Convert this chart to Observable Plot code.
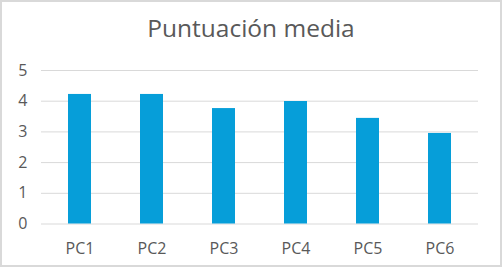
<!DOCTYPE html>
<html><head><meta charset="utf-8">
<script src="https://cdn.jsdelivr.net/npm/d3@7"></script>
<script src="https://cdn.jsdelivr.net/npm/@observablehq/plot@0.6"></script>
<style>
body{margin:0;background:#fff}
#chart{position:relative;width:502px;height:267px;box-sizing:border-box;border:2px solid #d9d9d9;background:#fff;font-family:"Open Sans",sans-serif;overflow:hidden}
#title{height:48px;padding-top:4px;box-sizing:border-box;line-height:44px;text-align:center;font-size:24.5px;color:#595959;}
#plot svg{display:block}
</style></head>
<body>
<div id="chart"><div id="title">Puntuación media</div><div id="plot"></div></div>
<script>
const categories = ["PC1","PC2","PC3","PC4","PC5","PC6"];
const values = [4.22, 4.22, 3.76, 3.99, 3.44, 2.95];
const yTicks = [0,1,2,3,4,5];

const data = categories.map((c,i)=>({cat:c, v:values[i]}));
const plot = Plot.plot({
  width: 498,
  height: 213,
  marginTop: 20,
  marginBottom: 39.5,
  marginLeft: 39,
  marginRight: 22,
  style: {fontFamily:'"Open Sans",sans-serif', fontSize:"16px", color:"#595959", background:"transparent"},
  x: {domain: categories, paddingInner: 0.685, paddingOuter: 0.3425, label: null},
  y: {domain: [0,5], label: null},
  marks: [
    Plot.gridY(yTicks, {stroke:"#d9d9d9", strokeOpacity:1, strokeWidth:1}),
    Plot.barY(data, {x:"cat", y:"v", fill:"#069ed9"}),
    Plot.axisY(yTicks, {tickSize:0, tickPadding:14, fontSize:16, fill:"#595959"}),
    Plot.axisX({tickSize:0, tickPadding:19, fontSize:16, fill:"#595959"})
  ]
});
document.getElementById("plot").appendChild(plot);
</script>
</body></html>
